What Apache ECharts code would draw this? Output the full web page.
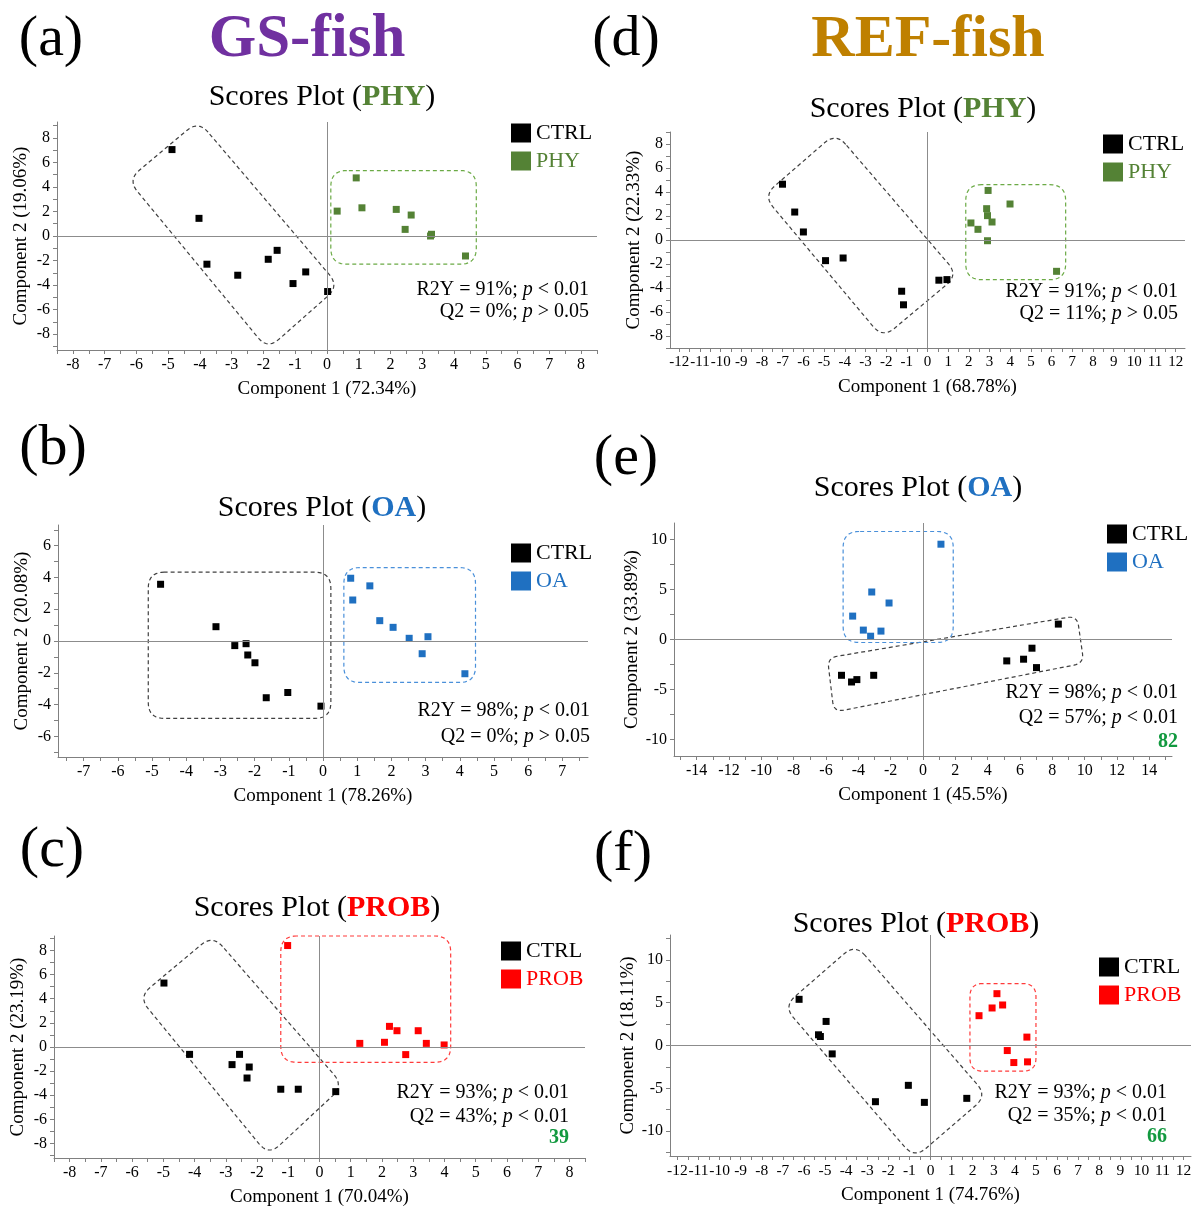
<!DOCTYPE html>
<html>
<head>
<meta charset="utf-8">
<script src="https://cdn.jsdelivr.net/npm/echarts@6/dist/echarts.min.js"></script>
<style>
  html, body { margin: 0; padding: 0; background: #fff; }
  #main { width: 1198px; height: 1210px; }
</style>
</head>
<body>
<div id="main"></div>
<script>
  // ---- values ----
  // (a) GS-fish, PHY
  var aCtrl = [[-4.88, 7.05], [-4.03, 1.44], [-3.78, -2.30], [-2.81, -3.20], [-1.85, -1.90], [-1.57, -1.17], [-1.07, -3.88], [-0.67, -2.93], [0.02, -4.53]]
  var aPhy = [[0.32, 2.03], [0.92, 4.74], [1.10, 2.30], [2.18, 2.17], [2.65, 1.71], [2.46, 0.54], [3.26, 0.00], [3.29, 0.14], [4.36, -1.63]]
  var aCtrlBox = [[-4.05, 9.40], [-6.27, 4.58], [-1.87, -9.24], [0.38, -4.09]]
  var aPhyBox = [[0.12, 5.34], [0.12, -2.30], [4.70, -2.30], [4.70, 5.34]]
  var aXLabels = [-8, -7, -6, -5, -4, -3, -2, -1, 0, 1, 2, 3, 4, 5, 6, 7, 8]
  var aYLabels = [-8, -6, -4, -2, 0, 2, 4, 6, 8]
  var aStats = [['R2Y = 91%; ', '< 0.01'], ['Q2 = 0%; ', '> 0.05']]

  // (b) GS-fish, OA
  var bCtrl = [[-4.75, 3.57], [-3.13, 0.90], [-2.58, -0.29], [-2.25, -0.17], [-2.20, -0.88], [-1.99, -1.37], [-1.66, -3.57], [-1.03, -3.24], [-0.06, -4.10]]
  var bOa = [[0.81, 3.95], [0.87, 2.58], [1.37, 3.47], [1.66, 1.28], [2.05, 0.86], [2.52, 0.17], [3.07, 0.27], [2.90, -0.80], [4.15, -2.06]]
  var bCtrlBox = [[-5.11, 4.33], [-5.11, -4.87], [0.23, -4.87], [0.23, 4.33]]
  var bOaBox = [[0.61, 4.62], [0.61, -2.61], [4.46, -2.61], [4.46, 4.62]]
  var bXLabels = [-7, -6, -5, -4, -3, -2, -1, 0, 1, 2, 3, 4, 5, 6, 7]
  var bYLabels = [-6, -4, -2, 0, 2, 4, 6]
  var bStats = [['R2Y = 98%; ', '< 0.01'], ['Q2 = 0%; ', '> 0.05']]

  // (c) GS-fish, PROB
  var cCtrl = [[-4.98, 5.30], [-4.16, -0.61], [-2.80, -1.46], [-2.56, -0.61], [-2.25, -1.66], [-2.32, -2.57], [-1.24, -3.50], [-0.68, -3.50], [0.52, -3.70]]
  var cProb = [[-1.02, 8.41], [1.29, 0.30], [2.08, 0.39], [2.24, 1.71], [2.48, 1.35], [2.76, -0.63], [3.16, 1.35], [3.42, 0.30], [3.99, 0.17]]
  var cCtrlBox = [[-3.42, 9.27], [-5.79, 4.14], [-1.63, -8.99], [0.77, -3.20]]
  var cProbBox = [[-1.24, 9.20], [-1.24, -1.27], [4.20, -1.27], [4.20, 9.20]]
  var cXLabels = [-8, -7, -6, -5, -4, -3, -2, -1, 0, 1, 2, 3, 4, 5, 6, 7, 8]
  var cYLabels = [-8, -6, -4, -2, 0, 2, 4, 6, 8]
  var cStats = [['R2Y = 93%; ', '< 0.01'], ['Q2 = 43%; ', '< 0.01']]

  // (d) REF-fish, PHY
  var dCtrl = [[-7.01, 4.65], [-6.42, 2.33], [-6.00, 0.67], [-4.93, -1.72], [-4.08, -1.50], [-1.25, -4.27], [-1.16, -5.40], [0.55, -3.35], [0.94, -3.30]]
  var dPhy = [[2.93, 4.13], [3.99, 3.00], [2.86, 2.61], [2.90, 2.03], [2.10, 1.42], [3.12, 1.50], [2.44, 0.89], [2.90, -0.06], [6.24, -2.61]]
  var dCtrlBox = [[-4.43, 8.92], [-7.93, 3.69], [-2.16, -8.17], [1.48, -2.92]]
  var dPhyBox = [[1.85, 4.61], [1.85, -3.31], [6.68, -3.31], [6.68, 4.61]]
  var dXLabels = [-12, -11, -10, -9, -8, -7, -6, -5, -4, -3, -2, -1, 0, 1, 2, 3, 4, 5, 6, 7, 8, 9, 10, 11, 12]
  var dYLabels = [-8, -6, -4, -2, 0, 2, 4, 6, 8]
  var dStats = [['R2Y = 91%; ', '< 0.01'], ['Q2 = 11%; ', '> 0.05']]

  // (e) REF-fish, OA
  var eCtrl = [[-5.04, -3.58], [-4.42, -4.25], [-4.09, -4.01], [-3.05, -3.58], [5.18, -2.14], [6.22, -1.97], [6.74, -0.87], [7.02, -2.81], [8.37, 1.54]]
  var eOa = [[1.11, 9.53], [-3.17, 4.75], [-2.10, 3.65], [-4.35, 2.34], [-3.69, 0.94], [-2.60, 0.84], [-3.24, 0.33]]
  var eCtrlBox = [[-5.91, -1.84], [-5.51, -7.26], [9.95, -2.37], [9.53, 2.37]]
  var eOaBox = [[-4.94, 10.80], [-4.94, -0.30], [1.87, -0.30], [1.87, 10.80]]
  var eXLabels = [-14, -12, -10, -8, -6, -4, -2, 0, 2, 4, 6, 8, 10, 12, 14]
  var eYLabels = [-10, -5, 0, 5, 10]
  var eStats = [['R2Y = 98%; ', '< 0.01'], ['Q2 = 57%; ', '< 0.01']]

  // (f) REF-fish, PROB
  var fCtrl = [[-6.23, 5.39], [-4.95, 2.81], [-5.31, 1.25], [-5.22, 1.05], [-4.66, -0.98], [-2.61, -6.56], [-1.05, -4.65], [-0.29, -6.64], [1.72, -6.17]]
  var fProb = [[2.30, 3.48], [2.92, 4.38], [3.15, 6.05], [3.42, 4.73], [4.57, 0.98], [3.64, -0.59], [3.95, -1.99], [4.60, -1.91]]
  var fCtrlBox = [[-3.57, 11.84], [-6.96, 4.57], [-0.76, -13.16], [2.68, -5.86]]
  var fProbBox = [[1.87, 7.23], [1.87, -3.00], [5.00, -3.00], [5.00, 7.23]]
  var fXLabels = [-12, -11, -10, -9, -8, -7, -6, -5, -4, -3, -2, -1, 0, 1, 2, 3, 4, 5, 6, 7, 8, 9, 10, 11, 12]
  var fYLabels = [-10, -5, 0, 5, 10]
  var fStats = [['R2Y = 93%; ', '< 0.01'], ['Q2 = 35%; ', '< 0.01']]

  var SERIF = "'Liberation Serif', 'Times New Roman', serif"
  var GREEN = '#548235'
  var BLUE = '#1F70C1'
  var RED = '#FF0000'
  var AXIS = '#808080'

  var panels = [
    { grid: { left: 57, top: 122, width: 540, height: 228 }, x: 8.5, y: 9.3, xLab: aXLabels, yLab: aYLabels, xStep: 0.5, yStep: 1,
      ctrl: aCtrl, trt: aPhy, trtName: 'PHY', color: GREEN, boxColor: '#6BAA45', ctrlBox: aCtrlBox, trtBox: aPhyBox, ctrlR: 15, trtR: 16,
      xName: 'Component 1 (72.34%)', yName: 'Component 2 (19.06%)', legend: [511, 122], title: [322, 97], stats: aStats, statsPos: [589, 290, 312] },
    { grid: { left: 58, top: 525, width: 530, height: 232 }, x: 7.75, y: 7.3, xLab: bXLabels, yLab: bYLabels, xStep: 0.5, yStep: 1,
      ctrl: bCtrl, trt: bOa, trtName: 'OA', color: BLUE, boxColor: '#4A90DA', ctrlBox: bCtrlBox, trtBox: bOaBox, ctrlR: 16, trtR: 16,
      xName: 'Component 1 (78.26%)', yName: 'Component 2 (20.08%)', legend: [511, 542], title: [322, 508], stats: bStats, statsPos: [590, 711, 737] },
    { grid: { left: 54, top: 936, width: 531, height: 222 }, x: 8.5, y: 9.2, xLab: cXLabels, yLab: cYLabels, xStep: 0.5, yStep: 1,
      ctrl: cCtrl, trt: cProb, trtName: 'PROB', color: RED, boxColor: '#FF3B3B', ctrlBox: cCtrlBox, trtBox: cProbBox, ctrlR: 15, trtR: 16,
      xName: 'Component 1 (70.04%)', yName: 'Component 2 (23.19%)', legend: [501, 940], title: [317, 908], stats: cStats, statsPos: [569, 1093, 1117], num: ['39', 1138] },
    { grid: { left: 670, top: 132, width: 515, height: 216 }, x: 12.45, y: 9, xLab: dXLabels, yLab: dYLabels, xStep: 0.5, yStep: 1, xFont: 15,
      ctrl: dCtrl, trt: dPhy, trtName: 'PHY', color: GREEN, boxColor: '#6BAA45', ctrlBox: dCtrlBox, trtBox: dPhyBox, ctrlR: 15, trtR: 16,
      xName: 'Component 1 (68.78%)', yName: 'Component 2 (22.33%)', legend: [1103, 133], title: [923, 109], stats: dStats, statsPos: [1178, 292, 314] },
    { grid: { left: 674, top: 523, width: 498, height: 233 }, x: 15.4, y: 11.65, xLab: eXLabels, yLab: eYLabels, xStep: 1, yStep: 2.5,
      ctrl: eCtrl, trt: eOa, trtName: 'OA', color: BLUE, boxColor: '#4A90DA', ctrlBox: eCtrlBox, trtBox: eOaBox, ctrlR: 10, trtR: 16,
      xName: 'Component 1 (45.5%)', yName: 'Component 2 (33.89%)', legend: [1107, 523], title: [918, 488], stats: eStats, statsPos: [1178, 693, 718], num: ['82', 742] },
    { grid: { left: 670, top: 935, width: 521, height: 221 }, x: 12.35, y: 12.9, xLab: fXLabels, yLab: fYLabels, xStep: 0.5, yStep: 2.5, xFont: 15.5,
      ctrl: fCtrl, trt: fProb, trtName: 'PROB', color: RED, boxColor: '#FF3B3B', ctrlBox: fCtrlBox, trtBox: fProbBox, ctrlR: 15, trtR: 13,
      xName: 'Component 1 (74.76%)', yName: 'Component 2 (18.11%)', legend: [1099, 956], title: [916, 924], stats: fStats, statsPos: [1167, 1093, 1116], num: ['66', 1137] }
  ]

  // tick positions between the limits
  function steps (lim, st) {
    var out = []
    var start = Math.ceil(-lim / st - 1e-9)
    for (var k = start; k * st <= lim + 1e-9; k++) out.push(+(k * st).toFixed(3))
    return out
  }

  // rounded polygon in pixel space
  function roundCorners (p, r) {
    var out = []
    var n = p.length
    for (var i = 0; i < n; i++) {
      var c = p[i]
      var a = p[(i + n - 1) % n]
      var b = p[(i + 1) % n]
      var da = Math.hypot(a[0] - c[0], a[1] - c[1])
      var db = Math.hypot(b[0] - c[0], b[1] - c[1])
      var ra = Math.min(r, da / 2)
      var rb = Math.min(r, db / 2)
      var s = [c[0] + (a[0] - c[0]) * ra / da, c[1] + (a[1] - c[1]) * ra / da]
      var e = [c[0] + (b[0] - c[0]) * rb / db, c[1] + (b[1] - c[1]) * rb / db]
      for (var k = 0; k <= 10; k++) {
        var t = k / 10
        var u = 1 - t
        out.push([u * u * s[0] + 2 * u * t * c[0] + t * t * e[0], u * u * s[1] + 2 * u * t * c[1] + t * t * e[1]])
      }
    }
    return out
  }

  function boxSeries (idx, corners, color, r) {
    return {
      type: 'custom',
      xAxisIndex: idx,
      yAxisIndex: idx,
      silent: true,
      z: 1,
      data: [0],
      renderItem: function (params, api) {
        var pts = corners.map(function (c) { return api.coord(c) })
        return {
          type: 'polygon',
          shape: { points: roundCorners(pts, r) },
          style: { fill: 'none', stroke: color, lineWidth: 1.2, lineDash: [4, 3] }
        }
      }
    }
  }

  function statText (x, y, s) {
    return {
      type: 'text',
      x: x,
      y: y,
      style: {
        text: '{n|' + s[0] + '}{i|p}{n| ' + s[1] + '}',
        align: 'right',
        verticalAlign: 'middle',
        rich: {
          n: { fontFamily: SERIF, fontSize: 20, fill: '#000' },
          i: { fontFamily: SERIF, fontSize: 20, fontStyle: 'italic', fill: '#000' }
        }
      }
    }
  }

  var option = {
    animation: false,
    backgroundColor: '#fff',
    grid: [],
    xAxis: [],
    yAxis: [],
    legend: [],
    series: [],
    graphic: []
  }

  panels.forEach(function (p, i) {
    option.grid.push(p.grid)
    option.xAxis.push({
      gridIndex: i,
      type: 'value',
      min: -p.x,
      max: p.x,
      axisLine: { onZero: false, lineStyle: { color: AXIS, width: 1 } },
      axisTick: { customValues: steps(p.x, p.xStep), length: 4, lineStyle: { color: AXIS } },
      axisLabel: { customValues: p.xLab, showMinLabel: true, showMaxLabel: true, hideOverlap: false, color: '#000', fontFamily: SERIF, fontSize: p.xFont || 16, margin: 7 },
      splitLine: { show: false },
      name: p.xName,
      nameLocation: 'middle',
      nameGap: 30,
      nameTextStyle: { color: '#000', fontFamily: SERIF, fontSize: 19 }
    })
    option.yAxis.push({
      gridIndex: i,
      type: 'value',
      min: -p.y,
      max: p.y,
      axisLine: { onZero: false, lineStyle: { color: AXIS, width: 1 } },
      axisTick: { customValues: steps(p.y, p.yStep), length: 4, lineStyle: { color: AXIS } },
      axisLabel: { customValues: p.yLab, showMinLabel: true, showMaxLabel: true, color: '#000', fontFamily: SERIF, fontSize: 16, margin: 7 },
      splitLine: { show: false },
      name: p.yName,
      nameLocation: 'middle',
      nameGap: 26,
      nameTextStyle: { color: '#000', fontFamily: SERIF, fontSize: 19 }
    })
    option.series.push(boxSeries(i, p.ctrlBox, '#404040', p.ctrlR))
    option.series.push(boxSeries(i, p.trtBox, p.boxColor, p.trtR))
    option.series.push({
      name: 'CTRL',
      type: 'scatter',
      xAxisIndex: i,
      yAxisIndex: i,
      symbol: 'rect',
      symbolSize: 7,
      itemStyle: { color: '#000', opacity: 1 },
      z: 3,
      data: p.ctrl,
      markLine: {
        silent: true,
        symbol: 'none',
        label: { show: false },
        lineStyle: { color: '#8c8c8c', type: 'solid', width: 1 },
        data: [{ xAxis: 0 }, { yAxis: 0 }]
      }
    })
    option.series.push({
      name: p.trtName,
      type: 'scatter',
      xAxisIndex: i,
      yAxisIndex: i,
      symbol: 'rect',
      symbolSize: 7,
      itemStyle: { color: p.color, opacity: 1 },
      z: 3,
      data: p.trt
    })
    option.legend.push({
      orient: 'vertical',
      left: p.legend[0],
      top: p.legend[1],
      padding: 0,
      icon: 'rect',
      itemWidth: 20,
      itemHeight: 19,
      itemGap: 6,
      selectedMode: false,
      itemStyle: { opacity: 1 },
      textStyle: { fontFamily: SERIF, fontSize: 22 },
      data: [
        { name: 'CTRL', itemStyle: { color: '#000', opacity: 1 }, textStyle: { color: '#000' } },
        { name: p.trtName, itemStyle: { color: p.color, opacity: 1 }, textStyle: { color: p.color } }
      ]
    })
    option.graphic.push({
      type: 'text',
      x: p.title[0],
      y: p.title[1],
      style: {
        text: '{a|Scores Plot (}{b|' + p.trtName + '}{a|)}',
        align: 'center',
        verticalAlign: 'middle',
        rich: {
          a: { fontFamily: SERIF, fontSize: 30, fill: '#000' },
          b: { fontFamily: SERIF, fontSize: 30, fontWeight: 'bold', fill: p.color }
        }
      }
    })
    option.graphic.push(statText(p.statsPos[0], p.statsPos[1], p.stats[0]))
    option.graphic.push(statText(p.statsPos[0], p.statsPos[2], p.stats[1]))
    if (p.num) {
      option.graphic.push({
        type: 'text',
        x: p.statsPos[0],
        y: p.num[1],
        style: { text: p.num[0], align: 'right', verticalAlign: 'middle', fontFamily: SERIF, fontSize: 20, fontWeight: 'bold', fill: '#12993F' }
      })
    }
  })

  // panel letters and group headers
  var letters = [['(a)', 51, 40], ['(b)', 53, 449], ['(c)', 52, 851], ['(d)', 626, 40], ['(e)', 626, 459], ['(f)', 623, 855]]
  letters.forEach(function (l) {
    option.graphic.push({
      type: 'text', x: l[1], y: l[2],
      style: { text: l[0], align: 'center', verticalAlign: 'middle', fontFamily: SERIF, fontSize: 58, fill: '#000' }
    })
  })
  option.graphic.push({
    type: 'text', x: 307, y: 40,
    style: { text: 'GS-fish', align: 'center', verticalAlign: 'middle', fontFamily: SERIF, fontSize: 61, fontWeight: 'bold', fill: '#7030A0' }
  })
  option.graphic.push({
    type: 'text', x: 928, y: 40,
    style: { text: 'REF-fish', align: 'center', verticalAlign: 'middle', fontFamily: SERIF, fontSize: 60, fontWeight: 'bold', fill: '#BF8000' }
  })

  var chart = echarts.init(document.getElementById('main'))
  chart.setOption(option)
  window.addEventListener('resize', function () {
    chart.resize()
  })
</script>
</body>
</html>
